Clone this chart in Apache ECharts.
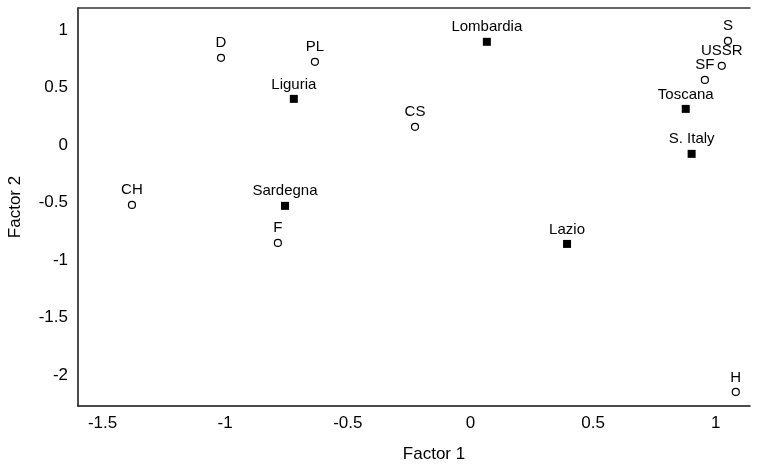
<!DOCTYPE html>
<html>
<head>
<meta charset="utf-8">
<script src="https://cdn.jsdelivr.net/npm/echarts@6/dist/echarts.min.js"></script>
<style>html,body{margin:0;padding:0;background:#fff}#c{width:761px;height:468px}</style>
</head>
<body>
<div id="c"></div>
<script>
const countryNames = ['D','PL','CS','CH','F','S','USSR','SF','H'];
const countryF1 = [-1.017,-0.634,-0.226,-1.380,-0.785,1.050,1.025,0.956,1.082];
const countryF2 = [0.757,0.722,0.157,-0.522,-0.852,0.904,0.687,0.565,-2.148];
const regionNames = ['Lombardia','Liguria','Sardegna','Lazio','Toscana','S. Italy'];
const regionF1 = [0.067,-0.720,-0.756,0.394,0.878,0.902];
const regionF2 = [0.896,0.400,-0.530,-0.861,0.313,-0.078];
const xTicks = [-1.5,-1,-0.5,0,0.5,1];
const yTicks = [-2,-1.5,-1,-0.5,0,0.5,1];

const font = '"Liberation Sans", Arial, Helvetica, sans-serif';
const chart = echarts.init(document.getElementById('c'), null, {renderer:'canvas'});
const lbl = {show:true, position:'top', distance:3, color:'#000', fontSize:15, fontFamily:font, formatter:p=>p.name};
chart.setOption({
  animation:false,
  grid:{left:78, right:11, top:8, bottom:62, containLabel:false, outerBoundsMode:'none'},
  xAxis:[{
    type:'value', min:-1.6, max:1.14,
    splitLine:{show:false},
    axisLine:{show:true, onZero:false, lineStyle:{color:'#111', width:1.5}},
    axisTick:{show:false},
    axisLabel:{customValues:xTicks, color:'#000', fontSize:17, fontFamily:font, margin:9, formatter:v=>String(v)},
    name:'Factor 1', nameLocation:'middle', nameGap:40,
    nameTextStyle:{color:'#000', fontSize:17, fontFamily:font, padding:[0,0,0,40]}
  },{
    type:'value', position:'top', min:-1.6, max:1.14,
    splitLine:{show:false}, axisTick:{show:false}, axisLabel:{show:false},
    axisLine:{show:true, onZero:false, lineStyle:{color:'#333', width:1.5}}
  }],
  yAxis:{
    type:'value', min:-2.27, max:1.19,
    splitLine:{show:false},
    axisLine:{show:true, onZero:false, lineStyle:{color:'#111', width:1.5}},
    axisTick:{show:false},
    axisLabel:{customValues:yTicks, color:'#000', fontSize:17, fontFamily:font, margin:10, formatter:v=>String(v)},
    name:'Factor 2', nameLocation:'middle', nameGap:54,
    nameTextStyle:{color:'#000', fontSize:17, fontFamily:font}
  },
  series:[{
    type:'scatter', symbol:'circle', symbolSize:7,
    itemStyle:{color:'#fff', borderColor:'#000', borderWidth:1.2, opacity:1},
    label:lbl,
    data:countryNames.map((n,i)=>({name:n, value:[countryF1[i], countryF2[i]]}))
  },{
    type:'scatter', symbol:'rect', symbolSize:8,
    itemStyle:{color:'#000', opacity:1},
    label:lbl,
    data:regionNames.map((n,i)=>({name:n, value:[regionF1[i], regionF2[i]]}))
  }]
});
</script>
</body>
</html>
